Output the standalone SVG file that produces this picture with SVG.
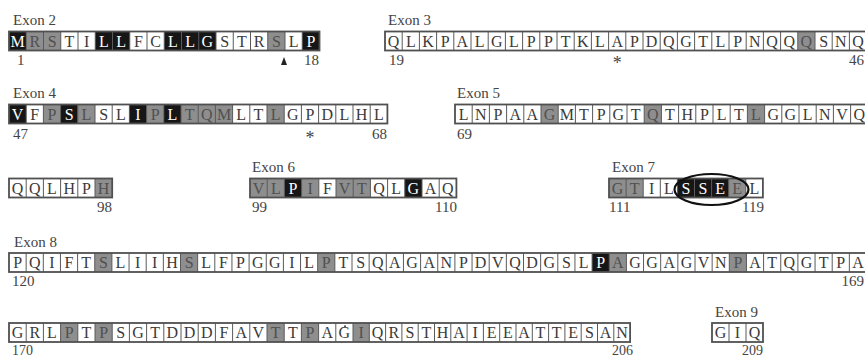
<svg xmlns="http://www.w3.org/2000/svg" width="865" height="358" viewBox="0 0 865 358">
<style>
.bg{fill:#fff}
.o{fill:none;stroke:#505050;stroke-width:1.8}
.s{fill:none;stroke:#5a5a5a;stroke-width:1}
.b{fill:#161616}
.g{fill:#8e8e8e}
.q{font-family:"Liberation Serif","Times New Roman",serif;font-size:16px;fill:#3a3a3a;text-anchor:middle}
.w{fill:#fff}
.d{fill:#505050}
.l{font-family:"Liberation Serif","Times New Roman",serif;font-size:15px;fill:#444}
.n{font-size:14px}
.e{text-anchor:end}
.a{font-family:"Liberation Serif","Times New Roman",serif;font-size:18px;fill:#444;text-anchor:middle}
</style>
<rect width="865" height="358" fill="#fff"/>

<g id="exon2">
<text class="l" x="13" y="25">Exon 2</text>
<g transform="translate(0,31.5)">
<rect class="bg" x="9" y="0" width="310.5" height="19"/>
<rect class="b" x="9" y="0" width="17.25" height="19"/><rect class="b" x="95.25" y="0" width="34.5" height="19"/><rect class="b" x="164.25" y="0" width="51.75" height="19"/><rect class="b" x="302.25" y="0" width="17.25" height="19"/>
<rect class="g" x="26.25" y="0" width="34.5" height="19"/><rect class="g" x="267.75" y="0" width="17.25" height="19"/>
<path class="s" d="M26.25 0v19M43.5 0v19M60.75 0v19M78 0v19M95.25 0v19M112.5 0v19M129.75 0v19M147 0v19M164.25 0v19M181.5 0v19M198.75 0v19M216 0v19M233.25 0v19M250.5 0v19M267.75 0v19M285 0v19M302.25 0v19"/>
<rect class="o" x="9" y="0" width="310.5" height="19"/>
<text class="q" y="15" x="17.63 34.88 52.13 69.38 86.63 103.88 121.13 138.38 155.63 172.88 190.13 207.38 224.63 241.88 259.13 276.38 293.63 310.88"><tspan class="w">M</tspan><tspan class="d">RS</tspan>TI<tspan class="w">LL</tspan>FC<tspan class="w">LLG</tspan>STR<tspan class="d">S</tspan>L<tspan class="w">P</tspan></text>
</g>
<text class="l" x="17" y="65">1</text>
<text class="l e" x="319" y="65">18</text>
<polygon points="281,65 287,65 284,57" fill="#222"/>
</g>

<g id="exon3">
<text class="l" x="388" y="25">Exon 3</text>
<g transform="translate(0,31.5)">
<rect class="bg" x="385" y="0" width="481.6" height="19"/>
<rect class="g" x="797.8" y="0" width="17.2" height="19"/>
<path class="s" d="M402.2 0v19M419.4 0v19M436.6 0v19M453.8 0v19M471 0v19M488.2 0v19M505.4 0v19M522.6 0v19M539.8 0v19M557 0v19M574.2 0v19M591.4 0v19M608.6 0v19M625.8 0v19M643 0v19M660.2 0v19M677.4 0v19M694.6 0v19M711.8 0v19M729 0v19M746.2 0v19M763.4 0v19M780.6 0v19M797.8 0v19M815 0v19M832.2 0v19M849.4 0v19"/>
<rect class="o" x="385" y="0" width="481.6" height="19"/>
<text class="q" y="15" x="393.6 410.8 428 445.2 462.4 479.6 496.8 514 531.2 548.4 565.6 582.8 600 617.2 634.4 651.6 668.8 686 703.2 720.4 737.6 754.8 772 789.2 806.4 823.6 840.8 858">QLKPALGLPPTKLAPDQGTLPNQQ<tspan class="d">Q</tspan>SNQ</text>
</g>
<text class="l" x="389" y="65">19</text>
<text class="a" x="617.2" y="69">*</text>
<text class="l e" x="864" y="65">46</text>
</g>

<g id="exon4">
<text class="l" x="13" y="98">Exon 4</text>
<g transform="translate(0,104.5)">
<rect class="bg" x="9" y="0" width="378.4" height="19"/>
<rect class="b" x="9" y="0" width="17.2" height="19"/><rect class="b" x="60.6" y="0" width="17.2" height="19"/><rect class="b" x="129.4" y="0" width="17.2" height="19"/><rect class="b" x="163.8" y="0" width="17.2" height="19"/>
<rect class="g" x="43.4" y="0" width="17.2" height="19"/><rect class="g" x="77.8" y="0" width="17.2" height="19"/><rect class="g" x="146.6" y="0" width="17.2" height="19"/><rect class="g" x="181" y="0" width="51.6" height="19"/><rect class="g" x="267" y="0" width="17.2" height="19"/>
<path class="s" d="M26.2 0v19M43.4 0v19M60.6 0v19M77.8 0v19M95 0v19M112.2 0v19M129.4 0v19M146.6 0v19M163.8 0v19M181 0v19M198.2 0v19M215.4 0v19M232.6 0v19M249.8 0v19M267 0v19M284.2 0v19M301.4 0v19M318.6 0v19M335.8 0v19M353 0v19M370.2 0v19"/>
<rect class="o" x="9" y="0" width="378.4" height="19"/>
<text class="q" y="15" x="17.6 34.8 52 69.2 86.4 103.6 120.8 138 155.2 172.4 189.6 206.8 224 241.2 258.4 275.6 292.8 310 327.2 344.4 361.6 378.8"><tspan class="w">V</tspan>F<tspan class="d">P</tspan><tspan class="w">S</tspan><tspan class="d">L</tspan>SL<tspan class="w">I</tspan><tspan class="d">P</tspan><tspan class="w">L</tspan><tspan class="d">TQM</tspan>LT<tspan class="d">L</tspan>GPDLHL</text>
</g>
<text class="l" x="13" y="139">47</text>
<text class="a" x="310" y="144">*</text>
<text class="l e" x="387" y="139">68</text>
</g>

<g id="exon5">
<text class="l" x="457" y="98">Exon 5</text>
<g transform="translate(0,104.5)">
<rect class="bg" x="455" y="0" width="412.8" height="19"/>
<rect class="g" x="541" y="0" width="17.2" height="19"/><rect class="g" x="644.2" y="0" width="17.2" height="19"/><rect class="g" x="747.4" y="0" width="17.2" height="19"/>
<path class="s" d="M472.2 0v19M489.4 0v19M506.6 0v19M523.8 0v19M541 0v19M558.2 0v19M575.4 0v19M592.6 0v19M609.8 0v19M627 0v19M644.2 0v19M661.4 0v19M678.6 0v19M695.8 0v19M713 0v19M730.2 0v19M747.4 0v19M764.6 0v19M781.8 0v19M799 0v19M816.2 0v19M833.4 0v19M850.6 0v19"/>
<rect class="o" x="455" y="0" width="412.8" height="19"/>
<text class="q" y="15" x="463.6 480.8 498 515.2 532.4 549.6 566.8 584 601.2 618.4 635.6 652.8 670 687.2 704.4 721.6 738.8 756 773.2 790.4 807.6 824.8 842 859.2">LNPAA<tspan class="d">G</tspan>MTPGT<tspan class="d">Q</tspan>THPLT<tspan class="d">L</tspan>GGLNVQ</text>
</g>
<text class="l" x="457" y="139">69</text>
<g transform="translate(0,178.5)">
<rect class="bg" x="9" y="0" width="103.2" height="19"/>
<rect class="g" x="95" y="0" width="17.2" height="19"/>
<path class="s" d="M26.2 0v19M43.4 0v19M60.6 0v19M77.8 0v19M95 0v19"/>
<rect class="o" x="9" y="0" width="103.2" height="19"/>
<text class="q" y="15" x="17.6 34.8 52 69.2 86.4 103.6">QQLHP<tspan class="d">H</tspan></text>
</g>
<text class="l e" x="112" y="212">98</text>
</g>

<g id="exon6">
<text class="l" x="252" y="171.5">Exon 6</text>
<g transform="translate(0,178.5)">
<rect class="bg" x="250" y="0" width="206.4" height="19"/>
<rect class="g" x="250" y="0" width="34.4" height="19"/><rect class="g" x="301.6" y="0" width="17.2" height="19"/><rect class="g" x="336" y="0" width="34.4" height="19"/>
<rect class="b" x="284.4" y="0" width="17.2" height="19"/><rect class="b" x="404.8" y="0" width="17.2" height="19"/>
<path class="s" d="M267.2 0v19M284.4 0v19M301.6 0v19M318.8 0v19M336 0v19M353.2 0v19M370.4 0v19M387.6 0v19M404.8 0v19M422 0v19M439.2 0v19"/>
<rect class="o" x="250" y="0" width="206.4" height="19"/>
<text class="q" y="15" x="258.6 275.8 293 310.2 327.4 344.6 361.8 379 396.2 413.4 430.6 447.8"><tspan class="d">VL</tspan><tspan class="w">P</tspan><tspan class="d">I</tspan>F<tspan class="d">VT</tspan>QL<tspan class="w">G</tspan>AQ</text>
</g>
<text class="l" x="252" y="212">99</text>
<text class="l e" x="457" y="212">110</text>
</g>

<g id="exon7">
<text class="l" x="612" y="171.5">Exon 7</text>
<g transform="translate(0,178.5)">
<rect class="bg" x="609" y="0" width="153.9" height="19"/>
<rect class="g" x="609" y="0" width="34.2" height="19"/><rect class="g" x="728.7" y="0" width="17.1" height="19"/>
<rect class="b" x="677.4" y="0" width="51.3" height="19"/>
<path class="s" d="M626.1 0v19M643.2 0v19M660.3 0v19M677.4 0v19M694.5 0v19M711.6 0v19M728.7 0v19M745.8 0v19"/>
<rect class="o" x="609" y="0" width="153.9" height="19"/>
<text class="q" y="15" x="617.55 634.65 651.75 668.85 685.95 703.05 720.15 737.25 754.35"><tspan class="d">GT</tspan>IL<tspan class="w">SSE</tspan><tspan class="d">E</tspan>L</text>
<ellipse cx="711.5" cy="11" rx="37" ry="15.5" fill="none" stroke="#111" stroke-width="2.2"/>
</g>
<text class="l" x="609" y="212">111</text>
<text class="l e" x="764" y="212">119</text>
</g>

<g id="exon8">
<text class="l" x="14" y="246.5">Exon 8</text>
<g transform="translate(0,253)">
<rect class="bg" x="9" y="0" width="857.5" height="19"/>
<rect class="g" x="94.75" y="0" width="17.15" height="19"/><rect class="g" x="180.5" y="0" width="17.15" height="19"/><rect class="g" x="317.7" y="0" width="17.15" height="19"/><rect class="g" x="609.25" y="0" width="17.15" height="19"/><rect class="g" x="729.3" y="0" width="17.15" height="19"/>
<rect class="b" x="592.1" y="0" width="17.15" height="19"/>
<path class="s" d="M26.15 0v19M43.3 0v19M60.45 0v19M77.6 0v19M94.75 0v19M111.9 0v19M129.05 0v19M146.2 0v19M163.35 0v19M180.5 0v19M197.65 0v19M214.8 0v19M231.95 0v19M249.1 0v19M266.25 0v19M283.4 0v19M300.55 0v19M317.7 0v19M334.85 0v19M352 0v19M369.15 0v19M386.3 0v19M403.45 0v19M420.6 0v19M437.75 0v19M454.9 0v19M472.05 0v19M489.2 0v19M506.35 0v19M523.5 0v19M540.65 0v19M557.8 0v19M574.95 0v19M592.1 0v19M609.25 0v19M626.4 0v19M643.55 0v19M660.7 0v19M677.85 0v19M695 0v19M712.15 0v19M729.3 0v19M746.45 0v19M763.6 0v19M780.75 0v19M797.9 0v19M815.05 0v19M832.2 0v19M849.35 0v19"/>
<rect class="o" x="9" y="0" width="857.5" height="19"/>
<text class="q" y="15" x="17.58 34.73 51.88 69.03 86.18 103.33 120.48 137.63 154.78 171.93 189.08 206.23 223.38 240.53 257.68 274.83 291.98 309.13 326.28 343.43 360.58 377.73 394.88 412.03 429.18 446.33 463.48 480.63 497.78 514.93 532.08 549.23 566.38 583.53 600.68 617.83 634.98 652.13 669.28 686.43 703.58 720.73 737.88 755.03 772.18 789.33 806.48 823.63 840.78 857.93">PQIFT<tspan class="d">S</tspan>LIIH<tspan class="d">S</tspan>LFPGGIL<tspan class="d">P</tspan>TSQAGANPDVQDGSL<tspan class="w">P</tspan><tspan class="d">A</tspan>GGAGVN<tspan class="d">P</tspan>ATQGTPA</text>
</g>
<text class="l" x="12" y="286">120</text>
<g transform="translate(0,323)">
<rect class="bg" x="9" y="0" width="621.1" height="19"/>
<rect class="g" x="60.6" y="0" width="17.2" height="19"/><rect class="g" x="95" y="0" width="17.2" height="19"/><rect class="g" x="267" y="0" width="17.2" height="19"/><rect class="g" x="301.4" y="0" width="17.2" height="19"/><rect class="g" x="353" y="0" width="16.3" height="19"/>
<path class="s" d="M26.2 0v19M43.4 0v19M60.6 0v19M77.8 0v19M95 0v19M112.2 0v19M129.4 0v19M146.6 0v19M163.8 0v19M181 0v19M198.2 0v19M215.4 0v19M232.6 0v19M249.8 0v19M267 0v19M284.2 0v19M301.4 0v19M318.6 0v19M335.8 0v19M353 0v19M369.3 0v19M385.6 0v19M401.9 0v19M418.2 0v19M434.5 0v19M450.8 0v19M467.1 0v19M483.4 0v19M499.7 0v19M516 0v19M532.3 0v19M548.6 0v19M564.9 0v19M581.2 0v19M597.5 0v19M613.8 0v19"/>
<rect class="o" x="9" y="0" width="621.1" height="19"/>
<text class="q" y="15" x="17.6 34.8 52 69.2 86.4 103.6 120.8 138 155.2 172.4 189.6 206.8 224 241.2 258.4 275.6 292.8 310 327.2 344.4 361.15 377.45 393.75 410.05 426.35 442.65 458.95 475.25 491.55 507.85 524.15 540.45 556.75 573.05 589.35 605.65 621.95">GRL<tspan class="d">P</tspan>T<tspan class="d">P</tspan>SGTDDDFAV<tspan class="d">T</tspan>T<tspan class="d">P</tspan>AG<tspan class="d">I</tspan>QRSTHAIEEATTESAN</text>
<circle cx="345" cy="3.2" r="1" fill="#444"/>
</g>
<text class="l e" x="864" y="286">169</text>
<text class="l n" x="12" y="355">170</text>
<text class="l n e" x="633" y="355">206</text>
</g>

<g id="exon9">
<text class="l" x="715" y="316.5">Exon 9</text>
<g transform="translate(0,323)">
<rect class="bg" x="712" y="0" width="51" height="19"/>
<path class="s" d="M729 0v19M746 0v19"/>
<rect class="o" x="712" y="0" width="51" height="19"/>
<text class="q" y="15" x="720.5 737.5 754.5">GIQ</text>
</g>
<text class="l n e" x="763" y="355">209</text>
</g>
</svg>
